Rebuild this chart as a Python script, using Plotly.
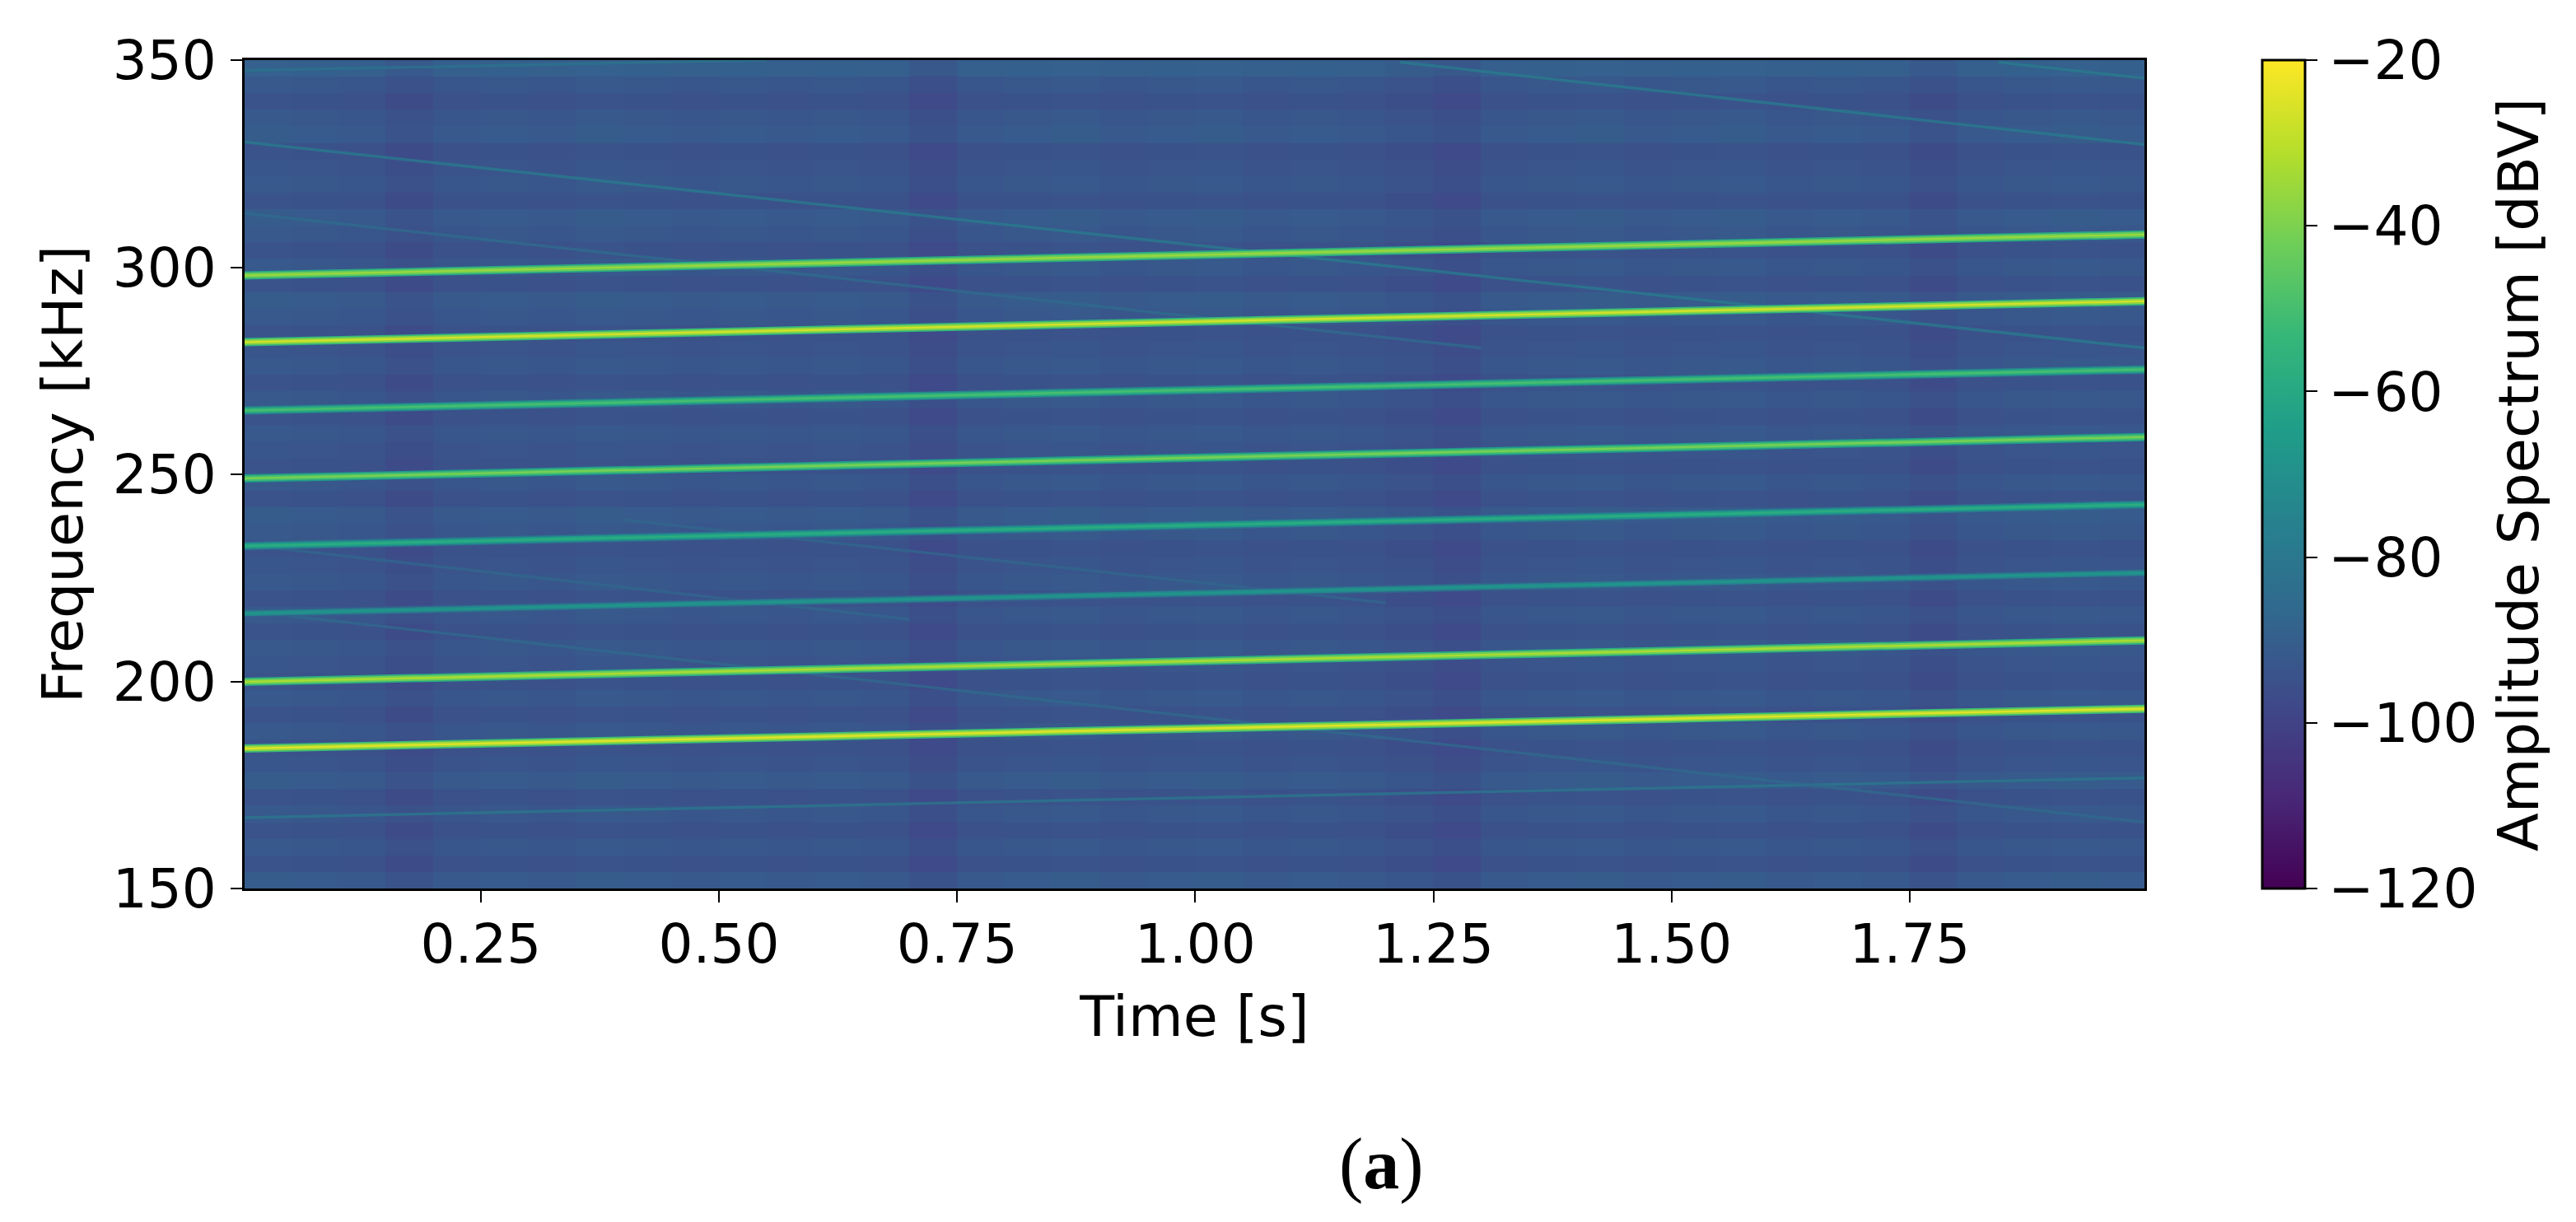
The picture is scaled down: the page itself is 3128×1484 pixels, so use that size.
import plotly.graph_objects as go
from plotly.colors import sample_colorscale

# spectrogram axes
time_ticks = [0.25, 0.50, 0.75, 1.00, 1.25, 1.50, 1.75]
freq_ticks = [150, 200, 250, 300, 350]
level_ticks = [-120, -100, -80, -60, -40, -20]

# background level, estimated: one level per 4 kHz row plus one offset per 0.05 s column.
# the fine speckle of the original can't be read cell by cell, so it is not reproduced
time_cols = [0.025, 0.075, 0.125, 0.175, 0.225, 0.275, 0.325, 0.375, 0.425, 0.475,
             0.525, 0.575, 0.625, 0.675, 0.725, 0.775, 0.825, 0.875, 0.925, 0.975,
             1.025, 1.075, 1.125, 1.175, 1.225, 1.275, 1.325, 1.375, 1.425, 1.475,
             1.525, 1.575, 1.625, 1.675, 1.725, 1.775, 1.825, 1.875, 1.925, 1.975]
col_offsets = [1, 0.5, 0, -2, 0, 0.5, 0, 1, 0.5, 0,
               0.5, 0, 0.5, 0, -2.5, 0, 0.5, 1, 0, 0.5,
               1, 0, 0.5, 0, -1, -2.5, 0, 0.5, 1, 0,
               0.5, 1, 0, 0.5, 0, -2, 0, 0.5, 1, 0.5]
freq_rows = [152, 156, 160, 164, 168, 172, 176, 180, 184, 188,
             192, 196, 200, 204, 208, 212, 216, 220, 224, 228,
             232, 236, 240, 244, 248, 252, 256, 260, 264, 268,
             272, 276, 280, 284, 288, 292, 296, 300, 304, 308,
             312, 316, 320, 324, 328, 332, 336, 340, 344, 348]
row_levels = [-92, -95, -93, -95, -93, -95, -92, -94, -95, -93,
              -95, -93, -95, -94, -93, -95, -93, -95, -93, -94,
              -95, -93, -92, -95, -93, -95, -94, -93, -95, -93,
              -95, -93, -94, -95, -93, -92, -95, -93, -95, -93,
              -92, -95, -93, -94, -95, -92, -93, -95, -93, -90]

# strong harmonics: start/end frequency [kHz], core and halo level [dBV]
line_t = [0.002, 1.9965]
line_start = [298.0, 281.9, 265.4, 249.0, 232.7, 216.4, 199.9, 183.8]
line_end = [307.9, 291.8, 275.3, 259.0, 242.7, 226.2, 209.9, 193.4]
core_levels = [-36, -27, -50, -41, -58, -68, -33, -25]
halo_levels = [-44, -38, -58, -50, -65, -74, -42, -36]

# faint falling and rising traces
faint_t0 = [0.002, 1.215, 1.843, 0.002, 0.002, 0.002, 0.002, 0.002, 0.400]
faint_t1 = [1.9965, 1.9965, 1.9965, 1.300, 0.550, 1.9965, 1.9965, 0.700, 1.200]
faint_f0 = [330.2, 349.5, 349.5, 313.0, 347.5, 167.1, 217.0, 233.0, 239.0]
faint_f1 = [280.5, 329.6, 345.6, 280.5, 350.0, 176.7, 166.0, 215.0, 219.0]
faint_levels = [-78, -78, -78, -85, -82, -80, -86, -87, -87]

z_min, z_max = -120, -20
font = "DejaVu Sans"
font_size = 66
title_size = 68.5


def level_color(level):
    return sample_colorscale("Viridis", (level - z_min) / (z_max - z_min))[0]


z = [[lvl + off for off in col_offsets] for lvl in row_levels]

fig = go.Figure()
fig.add_trace(go.Heatmap(
    x=time_cols, y=freq_rows, z=z, zmin=z_min, zmax=z_max,
    colorscale="Viridis", hoverinfo="skip",
    colorbar=dict(
        x=1.062, xanchor="left", y=0.5, yanchor="middle", len=1, lenmode="fraction",
        thickness=52, thicknessmode="pixels", outlinecolor="black", outlinewidth=3,
        tickvals=level_ticks, ticks="outside", ticklen=14, tickwidth=2, tickcolor="black",
        tickfont=dict(family=font, size=font_size, color="black"), xpad=0, ypad=0,
    ),
))

for i in range(len(faint_levels)):
    fig.add_trace(go.Scatter(
        x=[faint_t0[i], faint_t1[i]], y=[faint_f0[i], faint_f1[i]], mode="lines",
        line=dict(color=level_color(faint_levels[i]), width=3.5),
        opacity=0.75, hoverinfo="skip", showlegend=False,
    ))

for i in range(len(line_start)):
    ys = [line_start[i], line_end[i]]
    # wide soft edge, halo, then the bright centre
    for level, width in [(halo_levels[i] - 16, 10), (halo_levels[i], 6.5), (core_levels[i], 2.5)]:
        fig.add_trace(go.Scatter(
            x=line_t, y=ys, mode="lines",
            line=dict(color=level_color(level), width=width),
            hoverinfo="skip", showlegend=False,
        ))

# the page adds 8 px around the figure, so width/height and left/top are reduced by that
fig.update_layout(
    width=3120, height=1476, autosize=False, template=None,
    margin=dict(l=289, r=524, t=65, b=405, pad=0),
    paper_bgcolor="white", plot_bgcolor="white",
    font=dict(family=font, size=font_size, color="black"),
    showlegend=False,
)
fig.update_xaxes(
    range=[0.002, 1.9965], tickvals=time_ticks, tickformat=".2f",
    ticks="outside", ticklen=14, tickwidth=2, tickcolor="black", ticklabelstandoff=-6,
    showline=True, linecolor="black", linewidth=3, mirror=True, showgrid=False, zeroline=False,
    title=dict(text="Time [s]", standoff=26, font=dict(family=font, size=title_size)),
)
fig.update_yaxes(
    range=[150, 350], tickvals=freq_ticks,
    ticks="outside", ticklen=14, tickwidth=2, tickcolor="black", ticklabelstandoff=4,
    showline=True, linecolor="black", linewidth=3, mirror=True, showgrid=False, zeroline=False,
    title=dict(text="Frequency [kHz]", standoff=14, font=dict(family=font, size=title_size)),
)
fig.add_annotation(
    text="Amplitude Spectrum [dBV]", xref="paper", yref="paper", x=1.1968, y=0.499,
    xanchor="center", yanchor="middle",
    textangle=-90, showarrow=False, font=dict(family=font, size=title_size, color="black"),
)
fig.add_annotation(
    text="(<b>a</b>)", xref="paper", yref="paper", x=0.5982, y=-0.333,
    xanchor="center", yanchor="middle",
    showarrow=False, font=dict(family="Liberation Serif", size=88, color="black"),
)

fig.write_html("out.html")
